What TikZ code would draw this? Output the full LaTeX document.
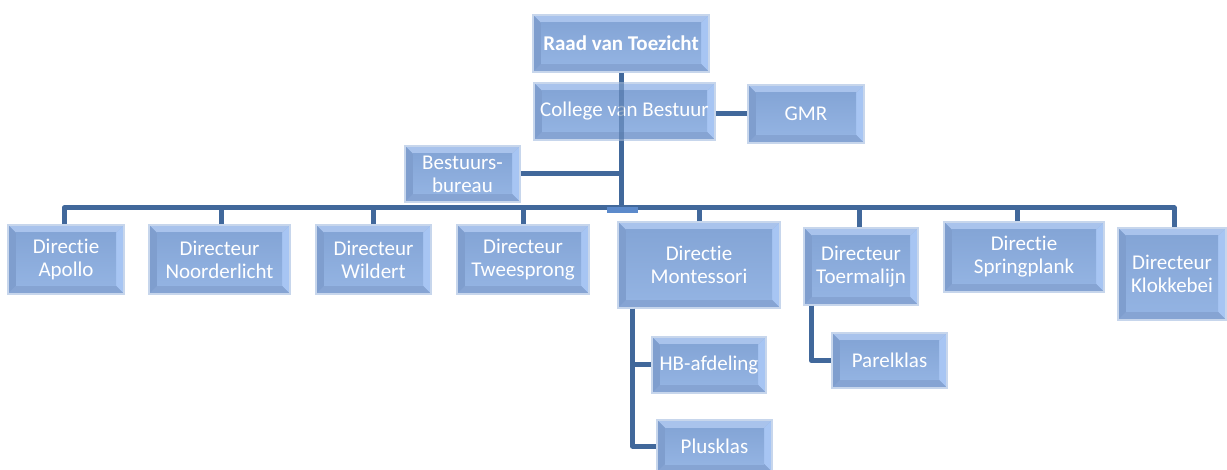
\documentclass[tikz,border=0pt]{standalone}
\usepackage{fontspec}
\setmainfont{Carlito}[Ligatures=NoCommon]
\definecolor{lnc}{HTML}{41689B}
\definecolor{edgec}{HTML}{C7D6EC}
\definecolor{facec}{HTML}{8AA9D8}
\definecolor{bevtopc}{HTML}{A9C3EC}
\definecolor{bevleftc}{HTML}{7F9ECE}
\definecolor{bevrightc}{HTML}{A7C5F3}
\definecolor{bevbotc}{HTML}{86A4D3}
\definecolor{facetop}{HTML}{84A5D6}
\definecolor{facebot}{HTML}{93B3E2}
\definecolor{hilite}{HTML}{5C8ACB}
\tikzset{
  bev/.style={draw=edgec, line width=1.5pt, fill=facec, text=white, align=center,
    inner sep=0pt, font=\fontsize{21}{23}\selectfont,
    path picture={
      \coordinate (pnw) at (path picture bounding box.north west);
      \coordinate (pne) at (path picture bounding box.north east);
      \coordinate (psw) at (path picture bounding box.south west);
      \coordinate (pse) at (path picture bounding box.south east);
      \coordinate (inw) at ([shift={(8pt,-8pt)}]pnw);
      \coordinate (ine) at ([shift={(-8pt,-8pt)}]pne);
      \coordinate (isw) at ([shift={(8pt,8pt)}]psw);
      \coordinate (ise) at ([shift={(-8pt,8pt)}]pse);
      \fill[bevtopc] (pnw)--(pne)--(ine)--(inw)--cycle;
      \fill[bevleftc] (pnw)--(inw)--(isw)--(psw)--cycle;
      \fill[bevrightc] (pne)--(ine)--(ise)--(pse)--cycle;
      \fill[bevbotc] (psw)--(isw)--(ise)--(pse)--cycle;
      \shade[top color=facetop, bottom color=facebot] (inw) rectangle (ise);
    }},
  conn/.style={draw=lnc, line width=5pt, line join=round},
  box/.style 2 args={bev, minimum width=#1pt, minimum height=#2pt}
}
\begin{document}
\begin{tikzpicture}[x=1pt,y=-1pt]
\useasboundingbox (0,0) rectangle (1227,470);
\coordinate (bus) at (621,208);
% connectors under the boxes
\draw[conn] (621,72) -- (bus);
% boxes
\node[box={176}{57}, font=\fontsize{21}{23}\selectfont\bfseries] (raad) at (621,43.5) {Raad van Toezicht};
\node[box={181}{57}] (cvb) at (624.5,111.5) {College van Bestuur};
\node[box={116}{58}] (gmr) at (806,114) {GMR};
\node[box={115}{56}] (bb) at (462.5,174) {Bestuurs-\\bureau};
\node[box={116}{69}] (apollo) at (66,259.5) {Directie\\Apollo};
\node[box={141}{69}] (noord) at (219.5,259.5) {Directeur\\Noorderlicht};
\node[box={115}{69}] (wild) at (373.5,259.5) {Directeur\\Wildert};
\node[box={132}{69}] (twee) at (523,259.5) {Directeur\\Tweesprong};
\node[box={162}{86}] (mont) at (699,265) {Directie\\Montessori};
\node[box={114}{77}] (toer) at (861,266.5) {Directeur\\Toermalijn};
\node[box={160}{70}] (spring) at (1024,257) {Directie\\Springplank};
\node[box={108}{92}] (klok) at (1172,274) {Directeur\\Klokkebei};
\node[box={114}{56}] (hb) at (709,365) {HB-afdeling};
\node[box={115}{52}] (plus) at (714.5,446) {Plusklas};
\node[box={115}{55}] (parel) at (889.5,360.5) {Parelklas};
% connectors
\draw[conn, opacity=0.55] (cvb.north -| raad.south) -- (cvb.south -| raad.south);
\draw[conn] (cvb.south -| raad.south) -- (bus);
\draw[conn] (gmr.west) -- (gmr.west -| cvb.east);
\draw[conn] (bb.east) -- (bb.east -| raad.south);
\draw[conn] ([xshift=-2pt]apollo.north) |- (bus) -| ([xshift=2pt]klok.north);
\draw[conn] ([xshift=1.5pt]noord.north) -- ([xshift=1.5pt]noord.north |- bus);
\draw[conn] (wild.north) -- (wild.north |- bus);
\draw[conn] (twee.north) -- (twee.north |- bus);
\draw[conn] (mont.north) -- (mont.north |- bus);
\draw[conn] ([xshift=-2pt]toer.north) -- ([xshift=-2pt]toer.north |- bus);
\draw[conn] ([xshift=-7pt]spring.north) -- ([xshift=-7pt]spring.north |- bus);
\fill[hilite] (607,207) rectangle (638,213);
\draw[conn] ([xshift=15pt]mont.south west) |- (hb.west);
\draw[conn] ([xshift=15pt]mont.south west) |- (plus.west);
\draw[conn] ([xshift=8pt]toer.south west) |- (parel.west);
\end{tikzpicture}
\end{document}
